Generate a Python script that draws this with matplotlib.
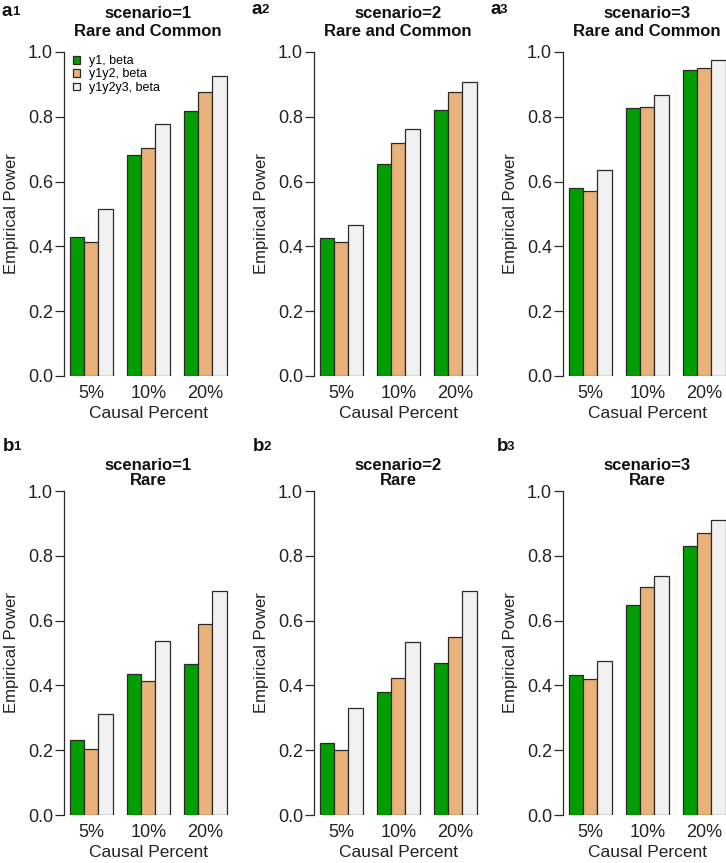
import matplotlib.pyplot as plt
import numpy as np

plt.rcParams['font.family'] = ['Liberation Sans', 'DejaVu Sans']

# Data
groups = ['5%', '10%', '20%']
series = ['y1, beta', 'y1y2, beta', 'y1y2y3, beta']
colors = ['#009e00', '#e9b27a', '#f1f1f1']

# rows = series (y1, y1y2, y1y2y3), columns = causal percent (5, 10, 20)
a1 = [[0.429, 0.682, 0.819], [0.415, 0.703, 0.877], [0.514, 0.778, 0.926]]
a2 = [[0.425, 0.654, 0.822], [0.414, 0.720, 0.877], [0.466, 0.761, 0.907]]
a3 = [[0.581, 0.828, 0.945], [0.571, 0.831, 0.950], [0.637, 0.868, 0.976]]
b1 = [[0.230, 0.435, 0.467], [0.203, 0.414, 0.588], [0.311, 0.536, 0.691]]
b2 = [[0.221, 0.381, 0.470], [0.200, 0.422, 0.548], [0.331, 0.534, 0.690]]
b3 = [[0.432, 0.648, 0.830], [0.420, 0.703, 0.869], [0.476, 0.738, 0.910]]

panels = [
    (a1, 'a', '1', 'scenario=1', 'Rare and Common', 'Causal Percent'),
    (a2, 'a', '2', 'scenario=2', 'Rare and Common', 'Causal Percent'),
    (a3, 'a', '3', 'scenario=3', 'Rare and Common', 'Casual Percent'),
    (b1, 'b', '1', 'scenario=1', 'Rare', 'Causal Percent'),
    (b2, 'b', '2', 'scenario=2', 'Rare', 'Causal Percent'),
    (b3, 'b', '3', 'scenario=3', 'Rare', 'Causal Percent'),
]

W, H = 726, 863
fig = plt.figure(figsize=(W / 100, H / 100), dpi=100)

col_left = [64, 314, 563]          # px, left spine
row_y = [(376, 52), (815, 491)]    # px, (y=0, y=1)
unit = 14.27                       # px per bar
xlo, xhi = 0.6, 12.4
title_y = [(14, 32), (465, 480)]
label_pos = [[(2, 11), (252, 9), (490, 9)], [(3, 446), (253, 446), (497, 446)]]

dark = '#2a2a2a'

for k, (vals, let, dig, t1, t2, xlab) in enumerate(panels):
    r, c = divmod(k, 3)
    y0, y1 = row_y[r]
    ax = fig.add_axes([col_left[c] / W, (H - y0) / H,
                       (xhi - xlo) * unit / W, (y0 - y1) / H])
    ax.patch.set_alpha(0)
    for j in range(3):
        x = [1.5 + 4 * g + j for g in range(3)]
        ax.bar(x, vals[j], width=1, color=colors[j], edgecolor=dark,
               linewidth=0.9, label=series[j])
    ax.set_xlim(xlo, xhi)
    ax.set_ylim(0, 1)
    ax.set_yticks([0, 0.2, 0.4, 0.6, 0.8, 1.0])
    ax.set_yticklabels(['0.0', '0.2', '0.4', '0.6', '0.8', '1.0'])
    ax.set_xticks([2.5, 6.5, 10.5])
    ax.set_xticklabels(groups)
    for s in ['top', 'right', 'bottom']:
        ax.spines[s].set_visible(False)
    ax.spines['left'].set_color(dark)
    ax.spines['left'].set_linewidth(0.9)
    ax.tick_params(axis='y', length=6.5, width=0.9, color=dark, pad=1.5,
                   labelsize=13, labelcolor='#222222')
    ax.tick_params(axis='x', length=0, pad=6.5, labelsize=13,
                   labelcolor='#222222')
    ax.set_xlabel(xlab, fontsize=12.5, color='#222222')
    ax.xaxis.set_label_coords(0.5, -0.092)
    ax.set_ylabel('Empirical Power', fontsize=12, color='#222222')
    ax.yaxis.set_label_coords(-0.27, 0.5)

    top = (y0 - y1)
    for ty, txt in zip(title_y[r], [t1, t2]):
        ax.text(0.5, 1 + (y1 - ty) / top, txt, transform=ax.transAxes,
                ha='center', va='center', fontsize=12, fontweight='bold',
                color='#111111')

    lx, ly = label_pos[r][c]
    fig.text(lx / W, 1 - ly / H, let, ha='left', va='center',
             fontsize=13.5, fontweight='bold', color='#111111')
    fig.text((lx + 10) / W, 1 - (ly + 1) / H, dig, ha='left', va='center',
             fontsize=9.5, fontweight='bold', color='#111111')

    if k == 0:
        ax.legend(loc='upper left', bbox_to_anchor=(0.055, 0.99),
                  frameon=False, fontsize=9, handlelength=0.55,
                  handleheight=0.55, handletextpad=0.7, labelspacing=0.1,
                  borderpad=0, borderaxespad=0)

fig.savefig('out.png', dpi=100)
